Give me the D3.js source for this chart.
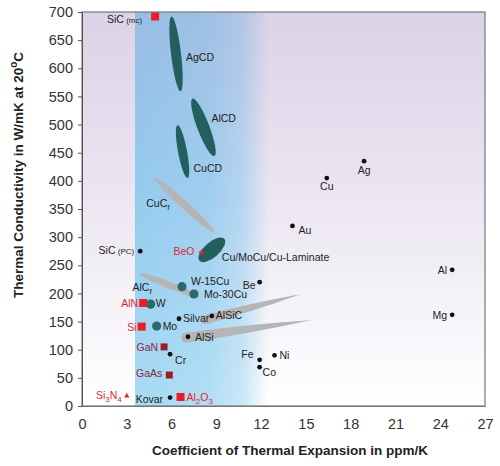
<!DOCTYPE html>
<html>
<head>
<meta charset="utf-8">
<script src="https://cdn.jsdelivr.net/npm/d3@7"></script>
<style>
  body { margin: 0; background: #fff; }
  text { font-family: "Liberation Sans", Arial, sans-serif; }
</style>
</head>
<body>
<script>
// ---- data: [name, CTE ppm/K, thermal conductivity W/mK] ----
const metals = [
  ["Ag", 18.9, 435], ["Cu", 16.4, 405], ["Au", 14.1, 320], ["Al", 24.8, 242],
  ["Mg", 24.8, 162], ["Be", 11.9, 220], ["Fe", 11.9, 82], ["Co", 11.9, 69],
  ["Ni", 12.9, 90], ["SiC (PC)", 3.9, 275], ["Silvar", 6.5, 155], ["AlSiC", 8.7, 160],
  ["AlSi", 7.1, 123], ["Cr", 5.9, 92], ["Kovar", 5.9, 15]
];
const ceramics = [["SiC (mc)", 4.9, 692], ["AlN", 4.1, 183], ["Si", 4.0, 141], ["Al_2O_3", 6.6, 16]];
const semis = [["GaN", 5.5, 105], ["GaAs", 5.85, 55]];
const beo = [["BeO", 8.0, 273]];
const si3n4 = [["Si_3N_4", 3.0, 18]];
const refractory = [["W", 4.6, 181], ["Mo", 5.0, 142], ["W-15Cu", 6.7, 212], ["Mo-30Cu", 7.5, 199]];
// ranges: [name, x1, y1, x2, y2]
const diamondComposites = [
  ["AgCD", 6.0, 692, 6.6, 559], ["AlCD", 7.4, 546, 8.87, 444],
  ["CuCD", 6.4, 499, 7.07, 405], ["Cu/MoCu/Cu-Laminate", 7.87, 258, 9.53, 297]
];
const fiberComposites = [["CuC_f", 4.87, 405, 8.87, 309], ["AlC_f", 3.87, 235, 7.87, 194]];
const siliconAlloys = [["AlSiC", 8.2, 153, 14.7, 199], ["AlSi", 6.87, 121, 15.4, 153]];
const xTicks = [0, 3, 6, 9, 12, 15, 18, 21, 24, 27];
const yTicks = d3.range(0, 701, 50);
const band = [3.55, 12.5];

// ---- layout (pixel offsets for labels, widths of shapes) ----
const lab = {
  "Ag": [0, 13, "middle"], "Cu": [0, 12, "middle"], "Au": [6, 8, "start"],
  "Al": [-5, 4, "end"], "Mg": [-5, 4, "end"], "Be": [-4, 7, "end"],
  "Fe": [-6, -2, "end"], "Co": [3, 9, "start"], "Ni": [5, 4, "start"],
  "SiC (PC)": [-6, 3, "end"], "Silvar": [4, 3, "start"], "AlSiC": [4, 3, "start"],
  "AlSi": [7, 4, "start"], "Cr": [5, 10, "start"], "Kovar": [-7, 5, "end"],
  "SiC (mc)": [-13, 6, "end"], "AlN": [-5, 4, "end"], "Si": [-5, 4, "end"],
  "Al_2O_3": [6, 4, "start"], "GaN": [-6, 4, "end"], "GaAs": [-7, 2, "end"],
  "BeO": [-7, 3, "end"], "Si_3N_4": [-5, 3, "end"],
  "W": [5, 3, "start"], "Mo": [6, 4, "start"], "W-15Cu": [9, -2, "start"], "Mo-30Cu": [10, 4, "start"],
  "AgCD": [10, 7, "start"], "AlCD": [8, -5, "start"], "CuCD": [11, 20, "start"],
  "Cu/MoCu/Cu-Laminate": [10, 11, "start"], "CuC_f": [-15, 2, "end"], "AlC_f": [-18, 6, "end"]
};
const shapeWidth = {
  "AgCD": 10, "AlCD": 12, "CuCD": 9, "Cu/MoCu/Cu-Laminate": 15,
  "CuC_f": 8, "AlC_f": 7, "AlSiC": 9, "AlSi": 10
};

const W = 500, H = 466;
const x = d3.scaleLinear().domain([0, 27]).range([82, 485]);
const y = d3.scaleLinear().domain([0, 700]).range([406, 12]);

const svg = d3.select("body").append("svg").attr("width", W).attr("height", H);
const defs = svg.append("defs");

// background gradients
const bg = defs.append("linearGradient").attr("id", "bg").attr("x1", 0).attr("y1", 0).attr("x2", 0).attr("y2", 1);
bg.append("stop").attr("offset", 0).attr("stop-color", "#dcd2e7");
bg.append("stop").attr("offset", 0.5).attr("stop-color", "#ece7f2");
bg.append("stop").attr("offset", 1).attr("stop-color", "#ffffff");

const bl = defs.append("linearGradient").attr("id", "blue").attr("x1", 0).attr("y1", 0).attr("x2", 0).attr("y2", 1);
bl.append("stop").attr("offset", 0).attr("stop-color", "#98bde3");
bl.append("stop").attr("offset", 0.45).attr("stop-color", "#95caee");
bl.append("stop").attr("offset", 1).attr("stop-color", "#a8dbf4");

const mg = defs.append("linearGradient").attr("id", "fade").attr("x1", 0).attr("y1", 0).attr("x2", 1).attr("y2", 0);
mg.append("stop").attr("offset", 0).attr("stop-color", "#fff");
mg.append("stop").attr("offset", 0.55).attr("stop-color", "#e4e4e4");
mg.append("stop").attr("offset", 0.8).attr("stop-color", "#a0a0a0");
mg.append("stop").attr("offset", 1).attr("stop-color", "#000");
defs.append("mask").attr("id", "bandMask").attr("maskContentUnits", "objectBoundingBox")
  .append("rect").attr("width", 1).attr("height", 1).attr("fill", "url(#fade)");

svg.append("rect").attr("x", x(0)).attr("y", y(700))
  .attr("width", x(27) - x(0)).attr("height", y(0) - y(700)).attr("fill", "url(#bg)");
svg.append("rect").attr("x", x(band[0])).attr("y", y(700))
  .attr("width", x(band[1]) - x(band[0])).attr("height", y(0) - y(700))
  .attr("fill", "url(#blue)").attr("mask", "url(#bandMask)");

// border
svg.append("rect").attr("x", x(0)).attr("y", y(700))
  .attr("width", x(27) - x(0)).attr("height", y(0) - y(700))
  .attr("fill", "none").attr("stroke", "#777").attr("stroke-width", 1.2);

// axes
const yAxis = svg.append("g").attr("transform", `translate(${x(0)},0)`)
  .call(d3.axisLeft(y).tickValues(yTicks).tickSize(4).tickPadding(5));
yAxis.selectAll("text").attr("font-size", 14.5).attr("fill", "#333");
yAxis.selectAll("line, path").attr("stroke", "#555");

const xAxis = svg.append("g").attr("transform", `translate(0,${y(0)})`)
  .call(d3.axisBottom(x).tickValues(xTicks).tickSize(0).tickPadding(13));
xAxis.selectAll("text").attr("font-size", 14.5).attr("fill", "#333");
xAxis.select(".domain").attr("stroke", "#777");

svg.append("text").attr("x", 290).attr("y", 455).attr("text-anchor", "middle")
  .attr("font-size", 13.5).attr("font-weight", "bold").attr("fill", "#222")
  .text("Coefficient of Thermal Expansion in ppm/K");

const yt = svg.append("text").attr("transform", "translate(23,175) rotate(-90)")
  .attr("text-anchor", "middle").attr("font-size", 13.5).attr("font-weight", "bold").attr("fill", "#222");
yt.append("tspan").text("Thermal Conductivity in W/mK at 20");
yt.append("tspan").attr("dy", -6).attr("font-size", 10).text("o");
yt.append("tspan").attr("dy", 6).text("C");

// label helper: "_x" -> subscript, "(..)" -> small
function label(g, name, px, py, color) {
  const o = lab[name] || [5, 4, "start"];
  const t = g.append("text").attr("x", px + o[0]).attr("y", py + o[1])
    .attr("text-anchor", o[2]).attr("font-size", 10.5).attr("fill", color);
  const paren = name.match(/^(.*?)\s*(\(.*\))$/);
  if (paren) {
    t.append("tspan").text(paren[1]);
    t.append("tspan").attr("font-size", 8).text(" " + paren[2]);
    return;
  }
  let sub = false;
  name.split(/(_\w)/).filter(s => s).forEach(s => {
    if (s[0] === "_") {
      t.append("tspan").attr("dy", sub ? 0 : 3).attr("font-size", 8).text(s[1]);
      sub = true;
    } else {
      t.append("tspan").attr("dy", sub ? -3 : 0).text(s);
      sub = false;
    }
  });
}

// elongated regions
function ellipseRegion(g, d, fill) {
  const [n, x1, y1, x2, y2] = d;
  const p1 = [x(x1), y(y1)], p2 = [x(x2), y(y2)];
  const cx = (p1[0] + p2[0]) / 2, cy = (p1[1] + p2[1]) / 2;
  const len = Math.hypot(p2[0] - p1[0], p2[1] - p1[1]);
  const ang = Math.atan2(p2[1] - p1[1], p2[0] - p1[0]) * 180 / Math.PI;
  g.append("ellipse").attr("cx", 0).attr("cy", 0).attr("rx", len / 2).attr("ry", shapeWidth[n] / 2)
    .attr("transform", `translate(${cx},${cy}) rotate(${ang})`).attr("fill", fill);
  return [cx, cy];
}

const shapes = svg.append("g");
fiberComposites.forEach(d => {
  const c = ellipseRegion(shapes, d, "#b5b5b5");
  label(svg, d[0], c[0], c[1], "#222");
});
siliconAlloys.forEach(d => {
  const [n, x1, y1, x2, y2] = d;
  const p1 = [x(x1), y(y1)], p2 = [x(x2), y(y2)];
  const len = Math.hypot(p2[0] - p1[0], p2[1] - p1[1]);
  const ang = Math.atan2(p2[1] - p1[1], p2[0] - p1[0]) * 180 / Math.PI;
  const h = shapeWidth[n] / 2;
  shapes.append("path")
    .attr("d", `M0,${-h} Q${len * 0.45},${-h} ${len},0 Q${len * 0.45},${h} 0,${h} A${h * 0.6},${h} 0 0,1 0,${-h} Z`)
    .attr("transform", `translate(${p1[0]},${p1[1]}) rotate(${ang})`).attr("fill", "#b5b5b5");
});
diamondComposites.forEach(d => {
  const c = ellipseRegion(shapes, d, "#245f60");
  label(svg, d[0], c[0], c[1], "#222");
});

// point markers
const pts = svg.append("g");
metals.forEach(d => {
  pts.append("circle").attr("cx", x(d[1])).attr("cy", y(d[2])).attr("r", 2.4).attr("fill", "#111");
  label(svg, d[0], x(d[1]), y(d[2]), "#222");
});
refractory.forEach(d => {
  pts.append("circle").attr("cx", x(d[1])).attr("cy", y(d[2])).attr("r", 4.6).attr("fill", "#2b6a6c");
  label(svg, d[0], x(d[1]), y(d[2]), "#222");
});
ceramics.forEach(d => {
  pts.append("rect").attr("x", x(d[1]) - 4).attr("y", y(d[2]) - 4).attr("width", 8).attr("height", 8).attr("fill", "#ec1c24");
  label(svg, d[0], x(d[1]), y(d[2]), d[0].startsWith("SiC") ? "#222" : "#e0262d");
});
semis.forEach(d => {
  pts.append("rect").attr("x", x(d[1]) - 3.5).attr("y", y(d[2]) - 3.5).attr("width", 7).attr("height", 7).attr("fill", "#a11d25");
  label(svg, d[0], x(d[1]), y(d[2]), "#8c2838");
});
beo.forEach(d => {
  pts.append("path").attr("d", d3.symbol(d3.symbolCross, 14)()).attr("transform", `translate(${x(d[1])},${y(d[2])})`).attr("fill", "#e0262d");
  label(svg, d[0], x(d[1]), y(d[2]), "#e0262d");
});
si3n4.forEach(d => {
  pts.append("path").attr("d", d3.symbol(d3.symbolTriangle, 12)()).attr("transform", `translate(${x(d[1])},${y(d[2])})`).attr("fill", "#e0262d");
  label(svg, d[0], x(d[1]), y(d[2]), "#e0262d");
});
</script>
</body>
</html>
